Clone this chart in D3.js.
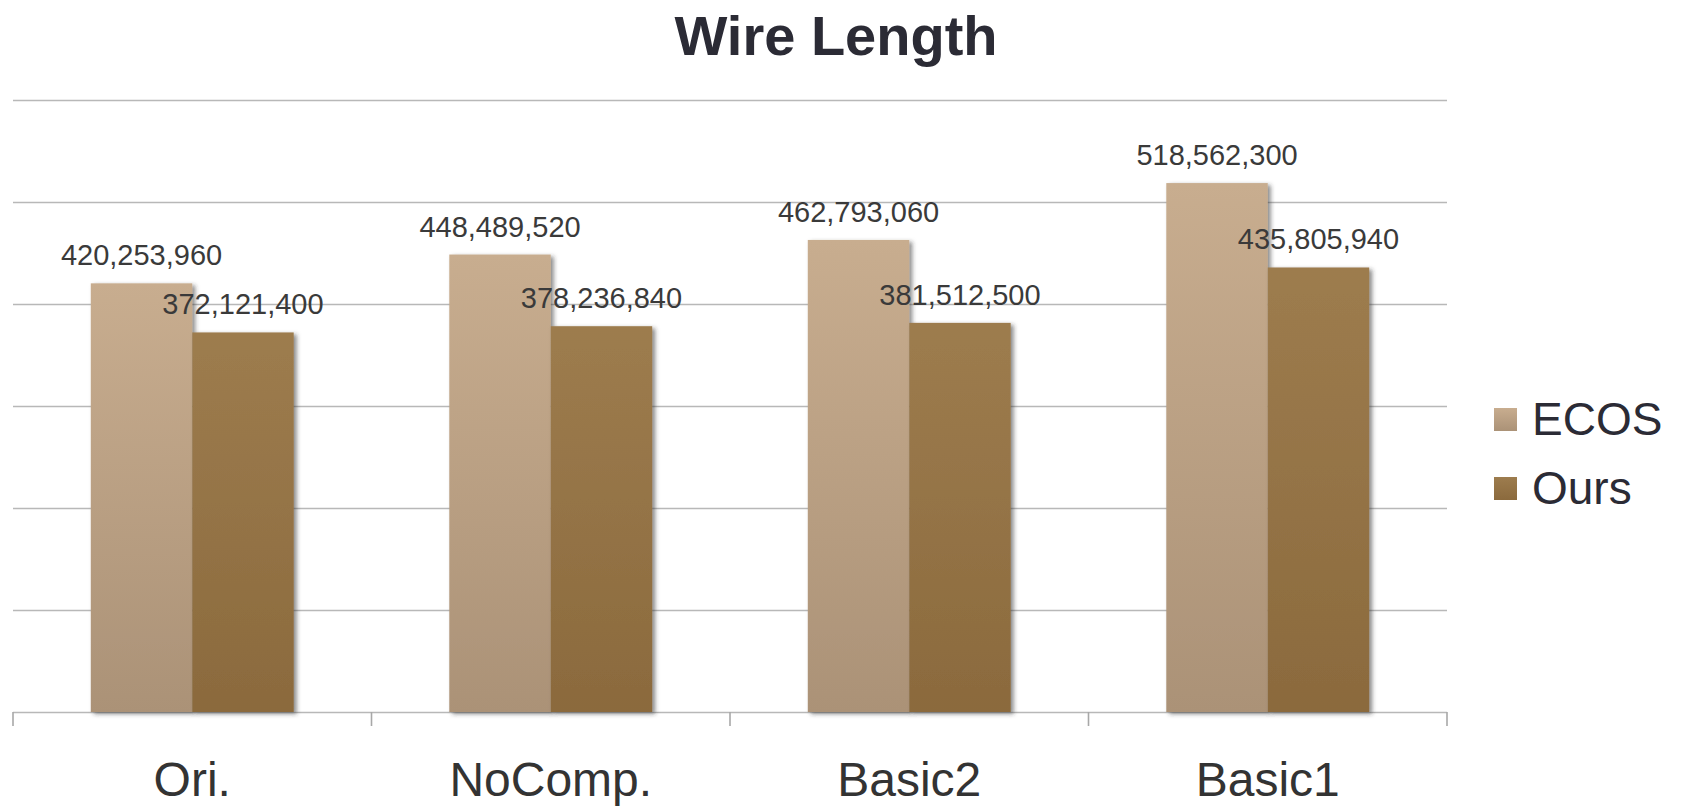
<!DOCTYPE html>
<html>
<head>
<meta charset="utf-8">
<script src="https://cdn.jsdelivr.net/npm/d3@7"></script>
<style>
  body { margin: 0; background: #fff; }
  svg text { font-family: "Liberation Sans", Arial, sans-serif; }
</style>
</head>
<body>
<svg id="chart" width="1683" height="808"></svg>
<script>
"use strict";
var categories = ['Ori.', 'NoComp.', 'Basic2', 'Basic1'];
var seriesNames = ['ECOS', 'Ours'];
var ecos = [420253960, 448489520, 462793060, 518562300];
var ours = [372121400, 378236840, 381512500, 435805940];
var yTicks = [0, 100000000, 200000000, 300000000, 400000000, 500000000, 600000000];

var colors = {
    ECOS: ['#c8ad8f', '#ab9277'],
    Ours: ['#9d7c4e', '#8b6a3d']
};

var svg = d3.select('#chart');
var margin = { left: 13, right: 236, top: 100, bottom: 96 };
var width = 1683 - margin.left - margin.right;
var height = 808 - margin.top - margin.bottom;

var rows = categories.map(function (c, i) {
    return { cat: c, values: [ecos[i], ours[i]] };
});

var defs = svg.append('defs');
seriesNames.forEach(function (name) {
    var g = defs.append('linearGradient')
        .attr('id', 'grad-' + name)
        .attr('x1', 0).attr('y1', 0).attr('x2', 0).attr('y2', 1);
    g.append('stop').attr('offset', '0%').attr('stop-color', colors[name][0]);
    g.append('stop').attr('offset', '100%').attr('stop-color', colors[name][1]);
});
var shadow = defs.append('filter').attr('id', 'shadow')
    .attr('x', '-10%').attr('y', '-10%').attr('width', '130%').attr('height', '130%');
shadow.append('feDropShadow')
    .attr('dx', 3).attr('dy', 2).attr('stdDeviation', 2)
    .attr('flood-color', '#333').attr('flood-opacity', 0.55);

var x0 = d3.scaleBand().domain(categories).range([0, width]).padding(0);
var groupW = x0.bandwidth() * 0.566;
var x1 = d3.scaleBand().domain(seriesNames).range([0, groupW]).padding(0);
var y = d3.scaleLinear().domain([0, 600000000]).range([height, 0]);

var plot = svg.append('g').attr('transform', 'translate(' + margin.left + ',' + margin.top + ')');

// gridlines
plot.append('g')
    .call(d3.axisLeft(y).tickValues(yTicks).tickSize(-width).tickFormat(''))
    .call(function (g) {
        g.select('.domain').remove();
        g.selectAll('.tick line').attr('stroke', '#b8b8b8').attr('stroke-width', 1.6);
    });

// x axis tick marks at category boundaries
var bounds = categories.map(function (c) { return x0(c); }).concat([width]);
plot.append('g').selectAll('line').data(bounds).enter().append('line')
    .attr('x1', function (d) { return d; }).attr('x2', function (d) { return d; })
    .attr('y1', height).attr('y2', height + 14)
    .attr('stroke', '#a8a8a8').attr('stroke-width', 1.6);

// category labels
plot.append('g').selectAll('text').data(categories).enter().append('text')
    .attr('x', function (d) { return x0(d) + x0.bandwidth() / 2; })
    .attr('y', height + 84)
    .attr('text-anchor', 'middle')
    .attr('font-size', 48)
    .attr('fill', '#333')
    .text(function (d) { return d; });

// bars
var groups = plot.append('g').selectAll('g').data(rows).enter().append('g')
    .attr('transform', function (d) {
        return 'translate(' + (x0(d.cat) + (x0.bandwidth() - groupW) / 2) + ',0)';
    });
var barData = function (d) {
    return seriesNames.map(function (s, i) { return { s: s, v: d.values[i] }; });
};
groups.selectAll('rect').data(barData).enter().append('rect')
    .attr('x', function (d) { return x1(d.s); })
    .attr('y', function (d) { return y(d.v); })
    .attr('width', x1.bandwidth())
    .attr('height', function (d) { return height - y(d.v); })
    .attr('fill', function (d) { return 'url(#grad-' + d.s + ')'; })
    .attr('filter', 'url(#shadow)');

// value labels drawn on top
var fmt = d3.format(',');
groups.selectAll('text').data(barData).enter().append('text')
    .attr('x', function (d) { return x1(d.s) + x1.bandwidth() / 2; })
    .attr('y', function (d) { return y(d.v) - 18; })
    .attr('text-anchor', 'middle')
    .attr('font-size', 29)
    .attr('fill', '#3a3a3a')
    .text(function (d) { return fmt(d.v); });

// title
svg.append('text')
    .attr('x', 836).attr('y', 55)
    .attr('text-anchor', 'middle')
    .attr('font-size', 56)
    .attr('font-weight', 'bold')
    .attr('fill', '#2b2b35')
    .text('Wire Length');

// legend
var legend = svg.append('g').attr('transform', 'translate(1494,408)');
var items = legend.selectAll('g').data(seriesNames).enter().append('g')
    .attr('transform', function (d, i) { return 'translate(0,' + (i * 69) + ')'; });
items.append('rect')
    .attr('width', 23).attr('height', 23)
    .attr('fill', function (d) { return 'url(#grad-' + d + ')'; });
items.append('text')
    .attr('x', 38).attr('y', 27)
    .attr('font-size', 46)
    .attr('fill', '#2b2b35')
    .text(function (d) { return d; });
</script>
</body>
</html>
